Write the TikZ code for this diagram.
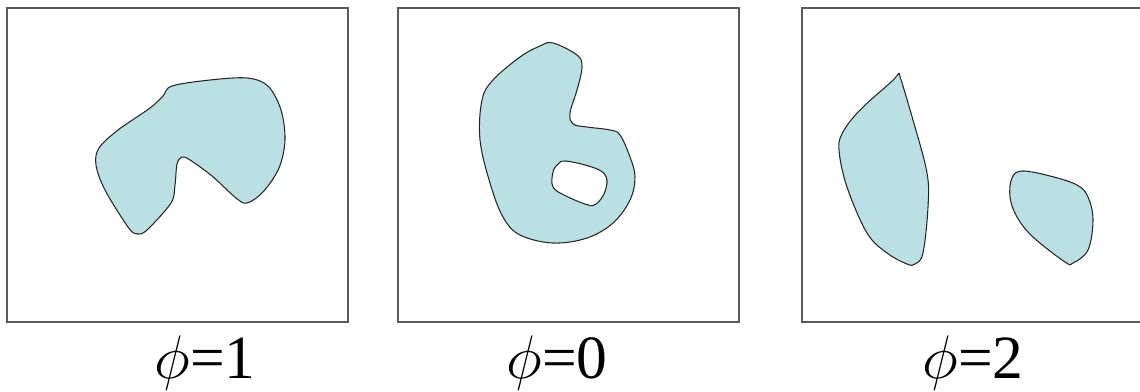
\RequirePackage{fix-cm}
\documentclass[tikz,border=0pt]{standalone}
\usepackage{fontspec}
\setmainfont{Liberation Serif}
\usepackage{xcolor}
\definecolor{BlobFill}{HTML}{BAE0E3}
\definecolor{FrameGray}{HTML}{5A5A5A}
\usetikzlibrary{calc}

\begin{document}
\begin{tikzpicture}[
    x=0.02cm, y=-0.02cm,
    frame/.style={draw=FrameGray, line width=0.9pt},
    blob/.style={fill=BlobFill, draw=black!85, line width=0.6pt, line join=round},
    tag/.style={anchor=base, inner sep=0pt, font=\fontsize{35}{40}\selectfont}
  ]
    \useasboundingbox (0,0) rectangle (1140,392);

    % the three frames
    \draw[frame] (7,8) rectangle (348,322);
    \draw[frame] (398,8) rectangle (739,322);
    \draw[frame] (1141,8) -- (802,8) -- (802,322) -- (1141,322);

    % one blob, bent
    \draw[blob] plot[smooth cycle, tension=0.55] coordinates {
      (172,86) (210,80) (247,78) (268,86) (281,110) (285,140) (279,168)
      (263,192) (247,203) (236,198) (212,176) (190,160) (182,157) (177,164)
      (175,185) (171,203) (147,230) (137,234) (128,227) (105,190) (96,165)
      (99,148) (118,130) (150,108) (163,96)};

    % blob with a hole
    \draw[blob, even odd rule] plot[smooth cycle, tension=0.6] coordinates {
      (553,43) (577,55) (582,67) (577,90) (570,113) (573,124) (587,127)
      (610,130) (620,135) (630,157) (635,177) (630,200) (613,223) (587,238)
      (553,243) (520,235) (503,217) (490,183) (480,140) (482,100) (493,80)
      (520,57) (540,46)}
      plot[smooth cycle, tension=0.6] coordinates {
      (565,161) (585,165) (601,171) (607,180) (604,194) (596,204) (588,205)
      (566,196) (553,187) (553,172) (558,164)};

    % two separate blobs
    \draw[blob] plot[smooth, tension=0.6] coordinates {
      (899,73) (913,120) (927,173) (928,207) (923,253) (915,264) (907,264)
      (887,253) (867,233) (847,187) (839,150) (843,132) (860,110) (890,83)
      (895,78) (899,73)} -- cycle;
    \draw[blob] plot[smooth cycle, tension=0.6] coordinates {
      (1022,171) (1050,176) (1077,185) (1088,197) (1093,220) (1088,250)
      (1073,263) (1065,262) (1033,237) (1017,217) (1010,197) (1012,178)};

    % labels
    \node[tag] (phione) at (205,378) {$\phi$=1};
    \node[tag] (phizero) at (557,378) {$\phi$=0};
    \node[tag] (phitwo) at (973,378) {$\phi$=2};
\end{tikzpicture}
\end{document}
